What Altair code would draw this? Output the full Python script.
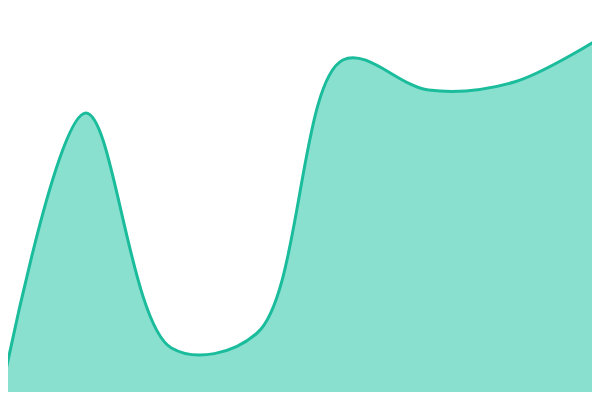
import altair as alt
import pandas as pd

x_idx = [0, 1, 2, 3, 4, 5, 6, 7]
values = [0, 287, 52, 67, 340, 310, 318, 362]

df = pd.DataFrame({"x": x_idx, "v": values})

chart = alt.Chart(df).mark_area(
    interpolate="catmull-rom",
    color="#89e0cf",
    opacity=1,
    fillOpacity=1,
    line={"color": "#1abc9c", "strokeWidth": 3},
    clip=True,
).encode(
    x=alt.X("x:Q", axis=None, scale=alt.Scale(domain=[0.0933, 6.9067], nice=False, zero=False)),
    y=alt.Y("v:Q", axis=None, scale=alt.Scale(domain=[8, 392], nice=False, zero=False)),
).properties(
    width=584, height=384, padding=0, autosize=alt.AutoSizeParams(type="none")
).configure_view(stroke=None)

chart.save("out.html", embed_options={"renderer": "svg", "actions": False})
